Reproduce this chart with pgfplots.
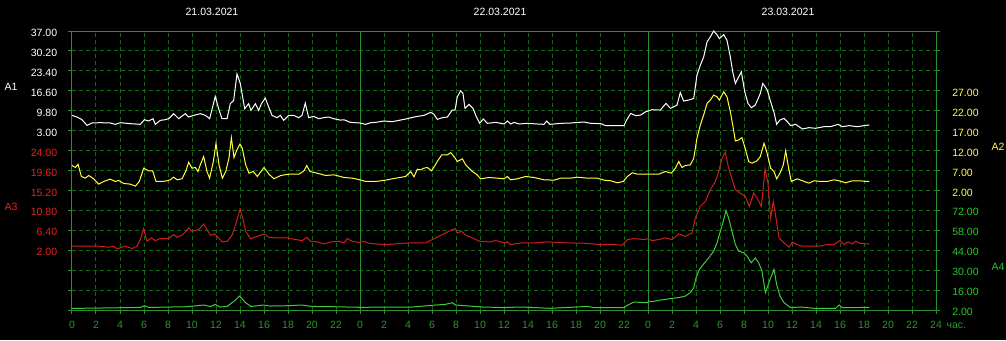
\documentclass[border=0pt]{standalone}
\usepackage{fontspec}
\setmainfont{Liberation Sans}
\usepackage{pgfplots}
\pgfplotsset{compat=1.18}
\usepackage{pgfplotstable}

\definecolor{gridg}{RGB}{20,105,20}
\definecolor{frameg}{RGB}{45,145,45}
\definecolor{tickg}{RGB}{40,150,40}
\definecolor{lineR}{RGB}{205,30,30}
\definecolor{labR}{RGB}{225,35,35}
\definecolor{lineY}{RGB}{255,255,60}
\definecolor{lineG}{RGB}{60,205,60}
\definecolor{labG}{RGB}{40,200,40}

% A1 (white, left scale)
\pgfplotstableread{
h v
0 8.21
0.42 7.65
0.83 6.74
1.25 4.81
1.67 5.61
2.36 5.72
3.19 5.61
3.61 5.15
4.03 5.72
4.86 5.38
5.69 5.15
6.03 6.74
6.39 6.29
6.75 7.08
6.94 5.15
7.36 6.51
7.78 6.74
8.06 7.08
8.47 8.78
8.89 7.08
9.44 8.78
9.72 7.65
10.14 8.21
10.69 8.78
11.11 8.21
11.47 7.08
11.94 14.67
12.22 10.48
12.5 7.08
12.92 7.08
13.19 12.18
13.47 13.31
13.75 22.38
14.03 18.98
14.39 10.48
14.72 12.18
14.92 9.91
15.28 12.18
15.56 9.91
15.78 12.18
16.11 14.11
16.39 11.05
16.67 8.21
17.08 7.42
17.36 8.21
17.64 6.51
18.06 8.21
18.47 8.21
18.89 7.42
19.17 8.21
19.44 12.41
19.72 7.42
20.14 7.87
20.56 7.08
20.97 7.42
21.39 7.65
21.81 7.08
22.36 6.6
22.67 6.7
23.2 5.83
24.0 5.6
24.47 5.15
24.89 5.72
25.31 5.83
26.0 6.29
26.69 6.06
27.25 6.51
27.94 7.08
28.64 7.76
29.33 8.21
29.89 9.23
30.17 8.55
30.44 6.85
30.86 7.42
31.28 7.65
31.69 10.03
31.92 10.03
32.11 14.56
32.39 16.6
32.58 15.7
32.75 10.59
33.08 11.95
33.42 10.59
33.69 7.76
33.97 5.49
34.28 6.97
34.61 5.49
35.31 5.83
36.0 5.27
36.28 6.29
36.56 5.27
36.83 5.83
37.25 5.27
37.94 5.49
38.78 5.27
39.33 5.15
39.56 6.29
39.83 5.15
40.72 5.49
41.56 5.6
42.67 5.95
43.22 5.49
44.06 5.38
44.47 4.7
45.17 4.7
46.0 4.7
46.22 6.63
46.56 8.89
46.97 8.1
47.39 8.33
47.81 9.46
48.0 9.69
48.33 10.14
49.03 10.03
49.5 12.3
49.86 10.59
50.14 11.16
50.42 11.73
50.69 16.03
50.97 13.09
51.39 13.43
51.81 14.0
52.08 21.93
52.36 25.33
52.64 28.16
52.92 33.26
53.19 34.96
53.47 37.0
53.75 35.75
53.94 34.39
54.31 35.75
54.58 33.83
54.86 28.16
55.06 23.06
55.28 19.09
55.56 21.36
55.78 23.06
56.06 16.26
56.33 12.3
56.61 10.82
56.94 11.73
57.36 15.7
57.56 19.09
57.67 18.53
57.94 16.83
58.22 12.86
58.5 9.23
58.72 5.15
59.0 6.63
59.33 7.19
59.61 6.06
59.89 4.7
60.31 5.15
60.86 3.57
61.42 4.02
61.97 3.8
62.67 4.36
63.22 4.36
63.83 5.15
64.19 4.36
64.75 4.7
65.44 4.36
66.0 4.7
66.44 4.93
}\tabAone

% A2 (yellow, right scale)
\pgfplotstableread{
h v
0 8.25
0.28 7.75
0.5 8.58
0.78 5.5
1.11 5.08
1.39 5.75
1.81 4.92
2.22 3.58
2.64 4.25
3.19 4.83
3.61 4.25
3.89 4.5
4.31 3.75
4.86 3.58
5.28 3.08
5.61 4.25
5.97 7.58
6.39 6.92
6.72 6.92
7.0 4.25
7.5 4.25
7.92 4.42
8.19 4.67
8.47 5.33
8.75 4.67
9.17 4.92
9.5 6.92
9.72 9.08
10.0 7.58
10.28 7.75
10.5 6.75
10.69 8.42
10.97 10.5
11.25 6.75
11.47 5.08
11.78 9.25
12.0 13.83
12.25 8.42
12.53 5.08
12.81 6.75
13.08 10.08
13.28 15.25
13.5 10.25
13.78 12.42
14.0 13.67
14.19 12.58
14.47 8.42
14.75 6.33
15.11 6.75
15.44 5.5
16.0 7.75
16.42 6.08
16.83 4.92
17.39 5.75
18.08 6.08
18.92 6.08
19.33 6.92
19.56 8.25
19.83 6.75
20.44 6.33
21.14 5.75
21.83 5.92
22.67 5.25
23.36 5.08
24.0 4.67
24.47 4.25
25.31 4.25
26.14 4.58
26.97 5.08
27.81 5.5
28.22 6.75
28.5 5.42
28.78 7.33
29.06 7.17
29.33 7.58
29.61 7.75
29.97 6.92
30.44 9.25
30.81 10.92
31.28 10.92
31.56 11.5
31.83 10.5
32.11 9.25
32.53 9.92
32.81 8.42
33.36 6.75
33.69 6.08
34.06 4.92
34.75 5.25
35.44 5.08
36.0 4.92
36.28 5.5
36.56 4.67
37.11 4.92
37.81 5.5
38.5 5.25
39.33 4.67
40.17 4.58
40.72 5.08
41.56 5.08
42.11 5.33
42.94 5.08
43.78 5.08
44.33 4.58
44.89 4.42
45.44 3.92
45.94 4.25
46.28 5.5
46.69 6.42
47.11 6.08
47.67 6.08
48.89 6.08
49.44 6.75
49.94 6.33
50.28 7.58
50.56 9.25
50.83 7.75
51.11 8.25
51.53 8.42
51.81 10.08
52.08 15.08
52.36 18.42
52.64 20.92
52.92 23.83
53.19 24.67
53.47 25.92
53.75 25.5
53.94 24.67
54.31 26.75
54.58 25.5
54.86 21.75
55.06 18.42
55.28 14.42
55.56 14.67
55.83 15.25
56.11 12.42
56.39 9.25
56.67 8.83
57.08 9.42
57.36 10.5
57.67 13.83
57.89 11.75
58.22 7.58
58.5 6.75
58.72 4.92
59.0 6.33
59.28 8.42
59.47 11.92
59.67 8.42
59.94 4.25
60.44 4.92
60.86 4.42
61.42 3.83
61.83 4.42
62.39 4.25
62.94 4.25
63.5 4.67
63.92 4.42
64.47 3.92
65.03 4.42
65.72 4.42
66.14 4.25
66.44 4.25
}\tabAtwo

% A3 (red, left scale)
\pgfplotstableread{
h v
0 2.88
1.11 2.88
2.22 2.88
3.06 2.66
3.47 2.88
3.75 2.29
4.17 2.66
4.44 2.88
5.0 2.37
5.42 2.88
5.69 4.35
5.97 6.77
6.25 3.98
6.61 4.71
6.94 4.13
7.36 4.57
8.06 4.57
8.47 5.45
8.75 4.86
9.17 5.3
9.44 6.03
9.72 6.91
10.0 6.18
10.56 6.55
10.97 7.79
11.25 6.55
11.53 5.3
11.89 5.59
12.0 5.3
12.53 3.83
12.94 3.98
13.36 5.45
13.72 8.38
14.0 11.1
14.19 9.48
14.47 6.18
14.89 4.49
15.44 5.08
16.0 5.59
16.42 4.86
17.11 4.71
17.94 4.71
18.64 4.35
19.19 4.13
19.56 4.86
19.89 3.98
20.44 3.83
21.0 3.39
21.56 3.83
22.25 3.98
22.67 3.61
22.94 4.57
23.36 3.98
24.0 3.7
24.33 3.98
24.75 3.54
25.31 3.39
26.14 3.25
26.97 3.39
28.08 3.61
29.47 3.61
30.03 4.35
30.58 5.08
31.14 5.81
31.69 6.55
31.92 6.77
32.11 5.81
32.47 6.18
32.81 5.3
33.36 4.71
33.97 3.98
34.75 3.83
35.31 4.13
36.08 3.61
36.28 3.83
36.56 3.25
37.39 3.61
38.5 3.61
39.61 3.83
41.28 3.61
42.67 3.54
44.06 3.25
45.17 3.25
45.86 3.1
46.28 4.35
46.83 4.57
47.67 4.35
48.0 4.5
48.33 4.13
48.89 4.35
49.44 4.71
50.0 4.35
50.56 5.59
51.11 5.08
51.67 5.81
51.94 9.11
52.36 11.68
52.78 12.78
53.19 15.35
53.61 17.18
53.89 19.38
54.17 22.31
54.44 23.63
54.72 20.11
55.06 17.18
55.28 15.35
55.69 14.61
56.11 13.88
56.44 11.68
56.81 14.61
57.17 13.15
57.44 11.68
57.6 15.5
57.75 19.97
58.0 16.81
58.22 9.11
58.44 12.78
58.64 9.48
58.92 4.71
59.33 3.61
59.75 2.66
60.03 3.83
60.39 3.25
60.86 2.88
61.56 2.88
62.25 2.88
62.94 3.25
63.5 3.25
64.0 4.13
64.33 3.25
64.67 3.83
65.03 3.39
65.31 3.98
65.72 3.47
66.44 3.39
}\tabAthree

% A4 (green, right scale)
\pgfplotstableread{
h v
0 3.1
5.7 3.8
6.03 5.0
6.4 3.8
9.58 4.3
10.97 5.5
11.53 4.5
11.94 5.9
12.36 4.1
12.92 4.5
13.47 7.9
13.97 11.8
14.44 7.3
14.92 4.5
15.97 5.5
16.53 4.8
17.92 5.0
19.17 5.5
20.0 4.5
21.8 4.3
24.0 3.9
28.36 4.1
30.03 5.3
31.14 6.0
31.69 7.1
31.97 5.5
33.08 4.8
34.2 4.1
36.0 3.7
37.4 4.1
39.9 3.2
42.9 4.5
43.5 3.7
46.0 3.7
46.28 5.3
46.83 7.6
47.94 7.1
48.06 8.3
48.33 7.85
48.89 8.8
49.44 9.5
50.0 10.2
50.56 10.7
51.11 11.8
51.53 14.2
51.81 17.6
52.0 24.6
52.28 30.5
52.64 34.4
53.06 38.6
53.47 43.3
53.75 49.1
54.03 57.3
54.31 65.5
54.5 71.8
54.72 66.6
55.0 57.3
55.28 48.0
55.56 43.3
55.97 42.2
56.25 39.8
56.61 35.2
56.94 38.6
57.22 35.2
57.5 29.3
57.78 14.2
58.17 23.5
58.5 30.5
58.72 20.0
59.0 11.8
59.33 7.1
59.89 3.7
60.72 4.1
61.83 3.2
62.94 3.2
63.64 3.2
63.92 5.5
64.19 3.7
65.17 3.7
66.44 3.9
}\tabAfour

\pgfplotsset{
  layer/.style={
    at={(54pt,22.5pt)}, anchor=south west,
    width=648pt, height=209.25pt, scale only axis,
    xmin=0, xmax=72, enlargelimits=false, clip=true,
    scaled y ticks=false,
    tick label style={font=\fontsize{7.9}{9}\selectfont, inner sep=0pt},
    /pgf/number format/assume math mode=true,
  },
  datalayer/.style={
    layer,
    axis line style={draw=none},
    xtick=\empty,
    major tick length=0pt,
    tick style={draw=none},
    yticklabel style={/pgf/number format/fixed, /pgf/number format/fixed zerofill, /pgf/number format/precision=2},
  },
  leftlab/.style={ytick pos=left, yticklabel pos=left,
    yticklabel style={anchor=east, xshift=-10.9pt, yshift=-1.5pt}},
  rightlab/.style={ytick pos=right, yticklabel pos=right,
    yticklabel style={anchor=west, xshift=12pt, yshift=-1.5pt}},
}

\begin{document}
\begin{tikzpicture}[font=\fontsize{7.9}{9}\selectfont]
\fill[black] (0,0) rectangle (754.5pt,255pt);
\path[use as bounding box] (0,0) rectangle (754.5pt,255pt);

% grid / frame layer
\begin{axis}[layer,
  ymin=0, ymax=14,
  axis line style={draw=frameg, line width=0.75pt},
  xtick={0,2,...,72}, ytick={0,1,...,14}, yticklabel={},
  grid=major,
  grid style={gridg, line width=0.75pt, dash pattern=on 3pt off 2.25pt},
  major tick length=3pt, tick align=outside,
  tick style={frameg, line width=0.75pt, solid},
  xtick pos=left, ytick pos=both,
  xticklabels={0,2,4,6,8,10,12,14,16,18,20,22,0,2,4,6,8,10,12,14,16,18,20,22,0,2,4,6,8,10,12,14,16,18,20,22,{24\rlap{\hspace{3.5pt}час.}}},
  xticklabel style={text=tickg, anchor=north, yshift=-5pt},
]
\draw[frameg, line width=0.75pt] (axis cs:24,0) -- (axis cs:24,14);
\draw[frameg, line width=0.75pt] (axis cs:48,0) -- (axis cs:48,14);
\end{axis}

% A4 green (right)
\begin{axis}[datalayer, rightlab, ymin=2, ymax=198,
  ytick={2,16,30,44,58,72}, yticklabel style={text=labG}]
\addplot[lineG, line width=0.75pt] table[x=h, y=v] {\tabAfour};
\end{axis}

% A3 red (left)
\begin{axis}[datalayer, leftlab, ymin=-11.2, ymax=50.4,
  ytick={2,6.4,10.8,15.2,19.6,24}, yticklabel style={text=labR}]
\addplot[lineR, line width=0.75pt] table[x=h, y=v] {\tabAthree};
\end{axis}

% A2 yellow (right)
\begin{axis}[datalayer, rightlab, ymin=-28, ymax=42,
  ytick={2,7,12,17,22,27}, yticklabel style={text=lineY}]
\addplot[lineY, line width=0.75pt] table[x=h, y=v] {\tabAtwo};
\end{axis}

% A1 white (left)
\begin{axis}[datalayer, leftlab, ymin=-58.2, ymax=37,
  ytick={3,9.8,16.6,23.4,30.2,37}, yticklabel style={text=white}]
\addplot[white, line width=0.75pt] table[x=h, y=v] {\tabAone};
\end{axis}

% dates
\node[text=white] at (159pt,246pt) {21.03.2021};
\node[text=white] at (375pt,246pt) {22.03.2021};
\node[text=white] at (591pt,246pt) {23.03.2021};
% series names
\node[text=white] at (8.25pt,189.75pt) {A1};
\node[text=labR] at (8.25pt,99.75pt) {A3};
\node[text=lineY] at (748.5pt,144.75pt) {A2};
\node[text=labG] at (748.5pt,54.75pt) {A4};
\end{tikzpicture}
\end{document}
